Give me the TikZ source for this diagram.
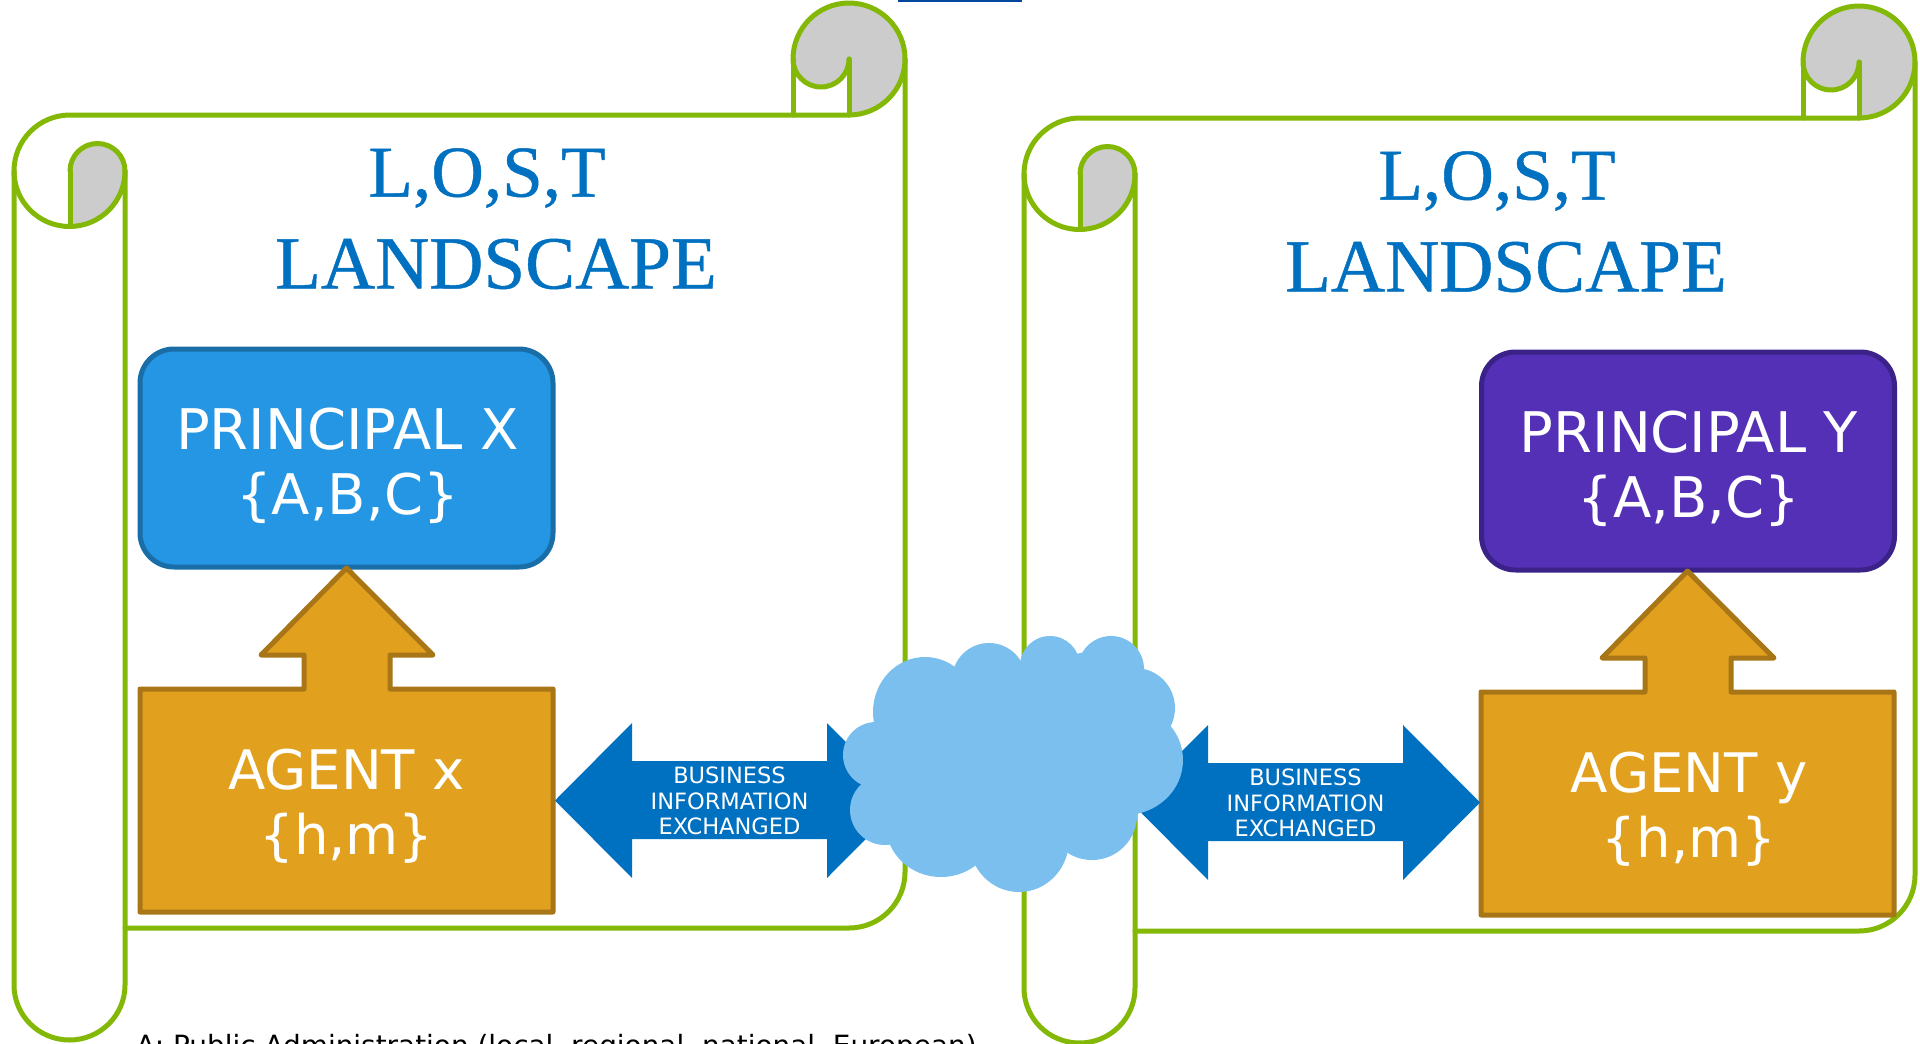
\documentclass[tikz,border=0pt]{standalone}
\usepackage{fontspec}
\setmainfont{DejaVu Sans}
\newfontfamily\titlefont[FakeBold=0.6]{Liberation Serif}
\usetikzlibrary{calc}
\definecolor{scrollgreen}{HTML}{84B807}
\definecolor{curlgrey}{HTML}{CCCCCC}
\definecolor{titleblue}{HTML}{0070C0}
\definecolor{cloudblue}{HTML}{7ABFED}
\definecolor{pxfill}{HTML}{2496E3}
\definecolor{pxline}{HTML}{1A6EA8}
\definecolor{pyfill}{HTML}{5430B6}
\definecolor{pyline}{HTML}{3A2288}
\definecolor{agfill}{HTML}{E1A01E}
\definecolor{agline}{HTML}{A97617}
\definecolor{topline}{HTML}{00479D}
\tikzset{
  scrollline/.style={draw=scrollgreen,line width=5pt,line join=round,line cap=round},
  titletext/.style={text=titleblue,font=\titlefont\fontsize{73}{80}\selectfont,inner sep=0pt,anchor=center},
  principal/.style={rectangle,rounded corners=34pt,line width=5pt,minimum width=413pt,minimum height=218pt,anchor=north west,inner sep=0pt},
  principaltext/.style={text=white,align=center,font=\fontsize{56}{65}\selectfont,inner sep=0pt},
  agentshape/.style={draw=agline,fill=agfill,line width=5pt,line join=round},
  agenttext/.style={text=white,align=center,font=\fontsize{54.5}{65}\selectfont,inner sep=0pt},
  biztext/.style={text=white,align=center,font=\fontsize{22.5}{25.5}\selectfont,inner sep=0pt},
  dblarrow/.style={fill=titleblue,draw=none},
  cloudpart/.style={fill=cloudblue,draw=none}
}
\newcommand{\scrollshape}[2]{%
\begin{scope}[shift={(#1,#2)}]
  \fill[white] (14,-171) arc[start angle=180,end angle=90,radius=56] -- (849,-115) -- (905,-59) -- (905,-873) arc[start angle=0,end angle=-90,radius=56] -- (125,-928) -- (125,-985) arc[start angle=360,end angle=180,x radius=55.5,y radius=55] -- cycle;
  \fill[curlgrey] (793,-59) arc[start angle=180,end angle=0,radius=56] arc[start angle=0,end angle=-90,radius=56] -- (849,-59) arc[start angle=0,end angle=-180,radius=28] -- cycle;
  \fill[curlgrey] (70,-171) arc[start angle=180,end angle=0,radius=27.5] arc[start angle=0,end angle=-90,radius=55] -- cycle;
  \draw[scrollline] (125,-928) -- (849,-928) arc[start angle=-90,end angle=0,radius=56] -- (905,-59);
  \draw[scrollline] (849,-115) arc[start angle=-90,end angle=0,radius=56] arc[start angle=0,end angle=180,radius=56] arc[start angle=180,end angle=360,radius=28];
  \draw[scrollline] (793,-59) -- (793,-115);
  \draw[scrollline] (849,-59) -- (849,-115);
  \draw[scrollline] (849,-115) -- (70,-115) arc[start angle=90,end angle=180,radius=56] arc[start angle=180,end angle=360,x radius=55.5,y radius=55.5];
  \draw[scrollline] (70,-171) arc[start angle=180,end angle=0,radius=27.5];
  \draw[scrollline] (70,-171) -- (70,-226);
  \draw[scrollline] (14,-171) -- (14,-985) arc[start angle=180,end angle=360,x radius=55.5,y radius=55] -- (125,-171);
\end{scope}}
\newcommand{\agentshape}[2]{%
\begin{scope}[shift={(#1,#2)}]
  \draw[agentshape] (140,-689) -- (304,-689) -- (304,-655) -- (261,-655) -- (346.5,-568) -- (433,-655) -- (390,-655) -- (390,-689) -- (553,-689) -- (553,-912) -- (140,-912) -- cycle;
\end{scope}}
\newcommand{\doublearrow}[2]{%
\begin{scope}[shift={(#1,#2)}]
  \fill[dblarrow] (555,-800.5) -- (632,-723) -- (632,-761) -- (827,-761) -- (827,-723) -- (904,-800.5) -- (827,-878) -- (827,-839) -- (632,-839) -- (632,-878) -- cycle;
\end{scope}}
\begin{document}
\begin{tikzpicture}[x=1pt,y=1pt]
\clip (0,0) rectangle (1920,-1044);
\useasboundingbox (0,0) rectangle (1920,-1044);
\fill[white] (0,0) rectangle (1920,-1044);
\fill[topline] (898,0) rectangle (1022,-1.5);
\scrollshape{0}{0}
\scrollshape{1010}{-3}
\node[titletext] (titleA1) at (487,-178) {L,O,S,T};
\node[titletext,font=\titlefont\fontsize{75}{80}\selectfont] (titleA2) at (496,-264) {LANDSCAPE};
\node[titletext] (titleB1) at (1497,-181) {L,O,S,T};
\node[titletext,font=\titlefont\fontsize{75}{80}\selectfont] (titleB2) at (1506,-267) {LANDSCAPE};
\node[principal,fill=pxfill,draw=pxline] (principalX) at (137.5,-346.5) {};
\node[principaltext] (principalXtext) at (347.5,-465.5) {PRINCIPAL X\\\{A,B,C\}};
\node[principal,fill=pyfill,draw=pyline] (principalY) at (1479,-349.5) {};
\node[principaltext] (principalYtext) at (1689,-468.5) {PRINCIPAL Y\\\{A,B,C\}};
\agentshape{0}{0}
\agentshape{1341}{-3}
\node[agenttext] (agentX) at (346.5,-806) {AGENT x\\\{h,m\}};
\node[agenttext] (agentY) at (1689,-809) {AGENT y\\\{h,m\}};
\doublearrow{0}{0}
\doublearrow{576}{-2}
\node[biztext] (bizA) at (729.5,-801) {BUSINESS\\INFORMATION\\EXCHANGED};
\node[biztext] (bizB) at (1305.5,-803) {BUSINESS\\INFORMATION\\EXCHANGED};
\fill[cloudpart] (1000,-760) ellipse[x radius=130,y radius=95];
\fill[cloudpart] (1090,-700) circle[radius=48];
\fill[cloudpart] (925,-712) ellipse[x radius=52,y radius=55];
\fill[cloudpart] (989,-680) circle[radius=37];
\fill[cloudpart] (1050,-666) circle[radius=30];
\fill[cloudpart] (1111,-669) circle[radius=33];
\fill[cloudpart] (1135,-708) circle[radius=40];
\fill[cloudpart] (1125,-760) ellipse[x radius=58,y radius=55];
\fill[cloudpart] (1092,-815) ellipse[x radius=45,y radius=45];
\fill[cloudpart] (1019,-840) ellipse[x radius=50,y radius=52];
\fill[cloudpart] (941,-825) ellipse[x radius=55,y radius=52];
\fill[cloudpart] (885,-810) circle[radius=35];
\fill[cloudpart] (876,-755) circle[radius=33];
\node[anchor=base west,inner sep=0pt,text=black,font=\fontsize{27.9}{30}\selectfont] (legend) at (136,-1055) {A: Public Administration (local, regional, national, European)};
\end{tikzpicture}
\end{document}
